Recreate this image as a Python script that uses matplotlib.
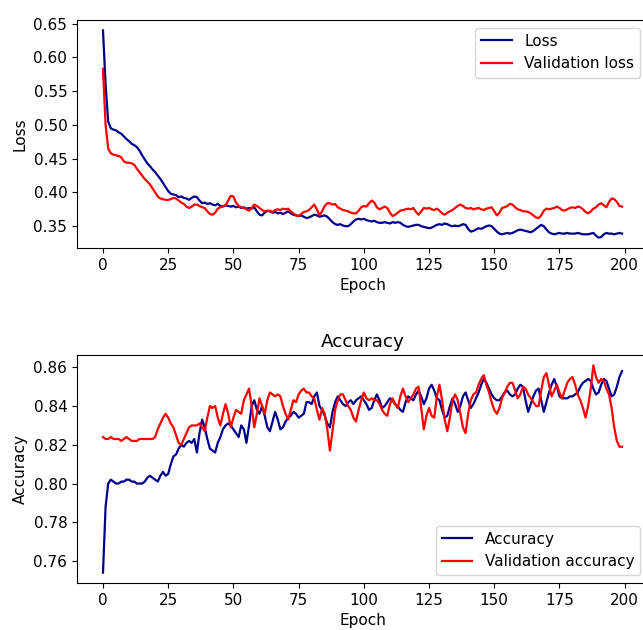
import numpy as np
import matplotlib
matplotlib.use("Agg")
import matplotlib.pyplot as plt

# values, one per epoch (0..199)
loss = [
    0.640, 0.560, 0.505, 0.495, 0.493, 0.492, 0.489, 0.487, 0.483, 0.479,
    0.476, 0.472, 0.470, 0.467, 0.462, 0.455, 0.449, 0.443, 0.439, 0.434,
    0.430, 0.425, 0.420, 0.414, 0.408, 0.402, 0.398, 0.397, 0.396, 0.393,
    0.394, 0.392, 0.391, 0.389, 0.392, 0.394, 0.393, 0.388, 0.384, 0.385,
    0.383, 0.384, 0.382, 0.381, 0.383, 0.380, 0.379, 0.381, 0.380, 0.379,
    0.380, 0.378, 0.379, 0.377, 0.378, 0.376, 0.377, 0.376, 0.378, 0.372,
    0.367, 0.366, 0.370, 0.373, 0.372, 0.370, 0.371, 0.369, 0.370, 0.368,
    0.370, 0.372, 0.369, 0.367, 0.366, 0.365, 0.366, 0.364, 0.362, 0.363,
    0.365, 0.367, 0.366, 0.364, 0.365, 0.366, 0.364, 0.360, 0.356, 0.353,
    0.352, 0.353, 0.351, 0.350, 0.350, 0.353, 0.357, 0.360, 0.361, 0.360,
    0.361, 0.359, 0.358, 0.357, 0.358, 0.356, 0.355, 0.355, 0.356, 0.355,
    0.354, 0.356, 0.355, 0.356, 0.355, 0.352, 0.350, 0.349, 0.350, 0.351,
    0.352, 0.352, 0.350, 0.349, 0.348, 0.347, 0.348, 0.350, 0.352, 0.353,
    0.352, 0.354, 0.353, 0.351, 0.350, 0.351, 0.350, 0.351, 0.353, 0.352,
    0.346, 0.342, 0.343, 0.345, 0.347, 0.346, 0.348, 0.350, 0.351, 0.350,
    0.346, 0.342, 0.339, 0.338, 0.339, 0.340, 0.339, 0.340, 0.342, 0.344,
    0.345, 0.344, 0.343, 0.342, 0.341, 0.343, 0.346, 0.349, 0.352, 0.350,
    0.345, 0.341, 0.339, 0.338, 0.339, 0.340, 0.339, 0.339, 0.340, 0.339,
    0.339, 0.339, 0.340, 0.339, 0.338, 0.338, 0.338, 0.339, 0.340, 0.336,
    0.333, 0.334, 0.338, 0.340, 0.339, 0.339, 0.338, 0.339, 0.340, 0.339,
]

val_loss = [
    0.583, 0.500, 0.465, 0.458, 0.456, 0.455, 0.454, 0.452, 0.446, 0.444,
    0.444, 0.443, 0.441, 0.435, 0.430, 0.425, 0.420, 0.416, 0.412, 0.406,
    0.400, 0.394, 0.391, 0.390, 0.389, 0.389, 0.390, 0.392, 0.391, 0.388,
    0.385, 0.383, 0.379, 0.377, 0.379, 0.382, 0.382, 0.380, 0.378, 0.377,
    0.372, 0.368, 0.367, 0.370, 0.376, 0.378, 0.380, 0.381, 0.388, 0.395,
    0.394, 0.385, 0.380, 0.378, 0.377, 0.375, 0.373, 0.377, 0.382, 0.380,
    0.377, 0.374, 0.372, 0.372, 0.373, 0.371, 0.374, 0.375, 0.374, 0.376,
    0.375, 0.376, 0.372, 0.369, 0.366, 0.365, 0.368, 0.371, 0.372, 0.374,
    0.378, 0.382, 0.375, 0.366, 0.372, 0.380, 0.384, 0.384, 0.382, 0.383,
    0.378, 0.376, 0.374, 0.373, 0.372, 0.370, 0.369, 0.369, 0.373, 0.378,
    0.380, 0.379, 0.384, 0.388, 0.385, 0.378, 0.375, 0.377, 0.379, 0.377,
    0.370, 0.365, 0.367, 0.370, 0.373, 0.374, 0.375, 0.376, 0.375, 0.377,
    0.371, 0.367, 0.372, 0.377, 0.376, 0.377, 0.375, 0.374, 0.376, 0.373,
    0.369, 0.367, 0.370, 0.372, 0.374, 0.377, 0.380, 0.382, 0.380, 0.377,
    0.376, 0.377, 0.375, 0.376, 0.377, 0.375, 0.374, 0.376, 0.377, 0.378,
    0.372, 0.366, 0.370, 0.377, 0.378, 0.380, 0.383, 0.382, 0.378, 0.375,
    0.374, 0.372, 0.372, 0.371, 0.369, 0.366, 0.363, 0.362, 0.366, 0.373,
    0.376, 0.375, 0.376, 0.377, 0.379, 0.377, 0.374, 0.373, 0.375, 0.377,
    0.378, 0.377, 0.379, 0.378, 0.375, 0.371, 0.369, 0.372, 0.376, 0.378,
    0.382, 0.384, 0.381, 0.378, 0.386, 0.391, 0.390, 0.386, 0.380, 0.379,
]

acc = [
    0.754, 0.788, 0.800, 0.802, 0.801, 0.800, 0.800, 0.801, 0.801, 0.802,
    0.802, 0.801, 0.801, 0.800, 0.800, 0.800, 0.801, 0.803, 0.804, 0.803,
    0.802, 0.801, 0.804, 0.806, 0.804, 0.805, 0.810, 0.814, 0.815, 0.818,
    0.820, 0.819, 0.821, 0.822, 0.821, 0.823, 0.816, 0.826, 0.833, 0.829,
    0.823, 0.818, 0.817, 0.816, 0.821, 0.824, 0.828, 0.830, 0.831, 0.830,
    0.828, 0.826, 0.824, 0.830, 0.828, 0.821, 0.830, 0.840, 0.843, 0.838,
    0.836, 0.840, 0.835, 0.829, 0.827, 0.832, 0.837, 0.833, 0.828, 0.829,
    0.832, 0.834, 0.835, 0.837, 0.836, 0.834, 0.835, 0.836, 0.842, 0.842,
    0.841, 0.845, 0.847, 0.840, 0.838, 0.835, 0.831, 0.829, 0.837, 0.842,
    0.845, 0.843, 0.841, 0.840, 0.842, 0.843, 0.841, 0.843, 0.844, 0.845,
    0.843, 0.841, 0.838, 0.839, 0.843, 0.846, 0.843, 0.839, 0.840, 0.842,
    0.844, 0.843, 0.841, 0.840, 0.838, 0.837, 0.842, 0.845, 0.844, 0.843,
    0.846, 0.848, 0.845, 0.841, 0.844, 0.849, 0.851, 0.848, 0.844, 0.843,
    0.838, 0.834, 0.835, 0.840, 0.844, 0.841, 0.837, 0.840, 0.845, 0.847,
    0.843, 0.839, 0.841, 0.844, 0.847, 0.851, 0.854, 0.852, 0.849, 0.846,
    0.844, 0.843, 0.843, 0.845, 0.847, 0.848, 0.846, 0.845, 0.846, 0.849,
    0.851, 0.850, 0.843, 0.837, 0.841, 0.845, 0.848, 0.849, 0.843, 0.837,
    0.842, 0.847, 0.851, 0.854, 0.850, 0.845, 0.844, 0.844, 0.844, 0.845,
    0.845, 0.846, 0.847, 0.850, 0.852, 0.853, 0.854, 0.853, 0.849, 0.846,
    0.847, 0.851, 0.854, 0.853, 0.849, 0.845, 0.846, 0.850, 0.855, 0.858,
]

val_acc = [
    0.824, 0.823, 0.823, 0.824, 0.823, 0.823, 0.823, 0.822, 0.823, 0.824,
    0.823, 0.822, 0.822, 0.822, 0.823, 0.823, 0.823, 0.823, 0.823, 0.823,
    0.824, 0.828, 0.831, 0.834, 0.836, 0.834, 0.831, 0.829, 0.825, 0.821,
    0.820, 0.823, 0.826, 0.829, 0.830, 0.830, 0.830, 0.831, 0.829, 0.827,
    0.834, 0.840, 0.839, 0.840, 0.834, 0.830, 0.836, 0.841, 0.836, 0.829,
    0.834, 0.838, 0.837, 0.836, 0.843, 0.846, 0.849, 0.840, 0.829, 0.836,
    0.844, 0.840, 0.836, 0.843, 0.847, 0.846, 0.845, 0.846, 0.845, 0.840,
    0.836, 0.833, 0.838, 0.843, 0.842, 0.846, 0.848, 0.849, 0.847, 0.847,
    0.845, 0.844, 0.838, 0.833, 0.839, 0.836, 0.828, 0.817, 0.827, 0.838,
    0.843, 0.846, 0.846, 0.843, 0.840, 0.838, 0.834, 0.832, 0.838, 0.843,
    0.847, 0.844, 0.843, 0.844, 0.843, 0.843, 0.841, 0.838, 0.836, 0.835,
    0.841, 0.844, 0.841, 0.839, 0.845, 0.849, 0.845, 0.842, 0.844, 0.846,
    0.849, 0.850, 0.839, 0.828, 0.835, 0.839, 0.835, 0.834, 0.845, 0.851,
    0.843, 0.833, 0.827, 0.834, 0.843, 0.846, 0.843, 0.836, 0.829, 0.826,
    0.836, 0.843, 0.846, 0.847, 0.851, 0.854, 0.856, 0.851, 0.847, 0.842,
    0.838, 0.836, 0.839, 0.844, 0.847, 0.850, 0.852, 0.852, 0.848, 0.844,
    0.846, 0.850, 0.849, 0.846, 0.844, 0.842, 0.840, 0.840, 0.848, 0.855,
    0.857, 0.851, 0.845, 0.848, 0.851, 0.847, 0.844, 0.848, 0.852, 0.854,
    0.855, 0.851, 0.846, 0.843, 0.839, 0.834, 0.840, 0.849, 0.861, 0.855,
    0.852, 0.854, 0.853, 0.849, 0.846, 0.839, 0.829, 0.822, 0.819, 0.819,
]

epochs = np.arange(len(loss))

plt.rcParams['font.size'] = 11

fig = plt.figure(figsize=(6.43, 6.30), dpi=100)

# top panel: loss
ax1 = fig.add_axes([0.1198, 0.6063, 0.888, 0.3619])
ax1.plot(epochs, loss, color='darkblue', lw=1.6, label='Loss')
ax1.plot(epochs, val_loss, color='red', lw=1.6, label='Validation loss')
ax1.set_xlabel('Epoch')
ax1.set_ylabel('Loss')
ax1.set_xticks(np.arange(0, 201, 25))
ax1.legend(loc='upper right')

# bottom panel: accuracy
ax2 = fig.add_axes([0.1198, 0.0746, 0.888, 0.3619])
ax2.plot(epochs, acc, color='darkblue', lw=1.6, label='Accuracy')
ax2.plot(epochs, val_acc, color='red', lw=1.6, label='Validation accuracy')
ax2.set_title('Accuracy')
ax2.set_xlabel('Epoch')
ax2.set_ylabel('Accuracy')
ax2.set_xticks(np.arange(0, 201, 25))
ax2.legend(loc='lower right')

fig.savefig('out.png', dpi=100)
